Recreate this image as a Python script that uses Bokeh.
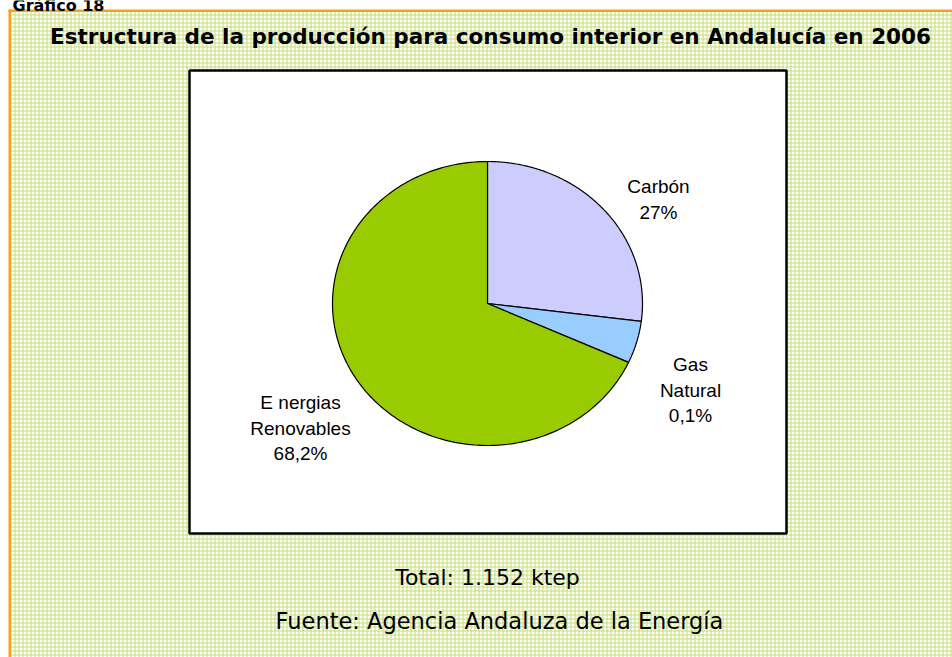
import numpy as np
from bokeh.plotting import figure
from bokeh.models import Range1d
from bokeh.core.properties import value
from bokeh.embed import file_html
from bokeh.resources import INLINE

# ---- data ----
categories = ["Carbón", "Gas Natural", "Energías Renovables"]
shares = [27.0, 4.8, 68.2]
label_lines = [["Carbón", "27%"], ["Gas", "Natural", "0,1%"], ["E nergias", "Renovables", "68,2%"]]
colors = ["#CCCCFF", "#99CCFF", "#99CC00"]
chart_number = "Gráfico 18"
title_text = "Estructura de la producción para consumo interior en Andalucía en 2006"
total_text = "Total: 1.152 ktep"
source_text = "Fuente: Agencia Andaluza de la Energía"

W, H = 952, 657
p = figure(width=W, height=H, x_range=Range1d(0, W), y_range=Range1d(H, 0),
           output_backend="svg", toolbar_location=None, min_border=0)
p.axis.visible = False
p.grid.visible = False
p.outline_line_color = None
p.background_fill_color = "white"
p.border_fill_color = "white"

# patterned background with orange border
p.quad(left=10.5, right=W, top=11.5, bottom=H, fill_color="white",
       hatch_pattern="+", hatch_scale=4, hatch_color="#c5dc70", hatch_weight=1,
       line_color=None)
p.quad(left=[8, 8], right=[10.5, W], top=[9, 9], bottom=[H, 11.5],
       fill_color="#F7A21B", line_color=None)

p.text(x=[12], y=[5], text=[chart_number], text_font=value("DejaVu Sans"),
       text_font_style="bold", text_font_size="16px", text_baseline="alphabetic",
       text_color="black")

p.text(x=[490], y=[36], text=[title_text], text_font=value("DejaVu Sans"),
       text_font_style="bold", text_font_size="21.5px", text_align="center",
       text_baseline="middle", text_color="black")

# plot area box
p.quad(left=189, right=786, top=70, bottom=533, fill_color="white",
       line_color="black", line_width=2.5)

# pie (elliptical)
cx, cy, rx, ry = 487, 303, 155, 142
cum = np.concatenate([[0], np.cumsum(shares)]) / sum(shares) * 2 * np.pi
xs, ys = [], []
for a0, a1 in zip(cum[:-1], cum[1:]):
    t = np.linspace(a0, a1, 200)
    xs.append(np.concatenate([[cx], cx + rx * np.sin(t), [cx]]))
    ys.append(np.concatenate([[cy], cy - ry * np.cos(t), [cy]]))
p.patches(xs=xs, ys=ys, fill_color=colors, line_color="black", line_width=1.2)

# labels
label_pos = [(658, 186), (690, 364), (300, 402)]
lx, ly, lt = [], [], []
for (x0, y0), lines in zip(label_pos, label_lines):
    for i, s in enumerate(lines):
        lx.append(x0); ly.append(y0 + i * 25.5); lt.append(s)
p.text(x=lx, y=ly, text=lt, text_font=value("Liberation Sans"), text_font_size="19px",
       text_align="center", text_baseline="middle", text_color="black")

p.text(x=[487], y=[577], text=[total_text], text_font=value("DejaVu Sans"),
       text_font_size="22px", text_align="center", text_baseline="middle", text_color="black")
p.text(x=[499], y=[620], text=[source_text], text_font=value("DejaVu Sans"),
       text_font_size="22.5px", text_align="center", text_baseline="middle", text_color="black")

open("out.html", "w").write(file_html(p, INLINE))
